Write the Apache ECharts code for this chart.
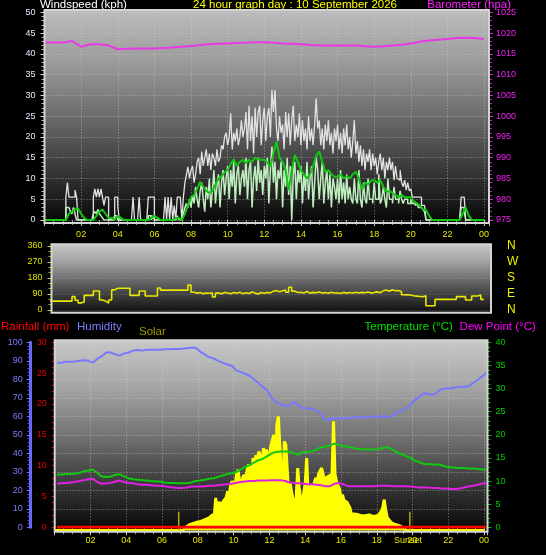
<!DOCTYPE html>
<html><head><meta charset="utf-8">
<script src="https://cdn.jsdelivr.net/npm/echarts@6/dist/echarts.min.js"></script>
<style>html,body{margin:0;padding:0;background:#000}#c{width:546px;height:555px}</style>
</head><body><div id="c"></div>
<script>
// ---- DATA ----
// wind gust (kph), 5-minute samples from 00:00
const gust5 = [
 0,0,0,0,0,0,0,0,0,0,0,0,
 0,0,0,5.5,9,5.5,5.5,5.5,5.5,7.2,5.5,0,
 0,0,0,0,0,0,0,0,0,5.5,7.5,5.5,
 7.5,5.5,7.5,5.5,3.5,5.5,5.5,0,0,0,0,5.5,
 5.5,3.5,0,0,0,0,0,0,0,0,0,5.5,
 0,0,0,5.5,0,0,0,0,0,5.5,5.5,5.5,
 5.5,0,0,0,0,0,0,0,5.5,0,5.5,0,
 5.5,0,3.5,0,5.5,5.5,5.5,0,5.5,9,11,12.8,
 10,12,13,9,11,14,15,11,16.5,13,15,17,
 13,16,12,16,15,13,17,14,15,18,17,20,
 21,18,20,25.7,17,21,19,22,18,20,24,20,
 22,26,17,27.5,19,25,16,27,20,26,27.5,18,
 24,27,19,25,27,20,31.3,26,31.3,22,19,25,
 21,23,17,26,20,25.7,18,24,27.5,19,23,20,
 25.7,18,24,19,22,17,25,19,22,18,23,29.3,
 22,24,18,22,17,23,19,24,18,21,16,22,
 19,23,17,21,16,22,18,23,17,20,15,19,
 24,16,19,14,18,13,17,12,16,14,17,12,
 16,13,15,11,14,16,12,15,10,14,12,15,
 12,14,9.6,13,10,9.6,12,9,8,9.6,7.2,9,
 7,7.5,5.5,5.5,5.5,5.5,5.5,5.5,3.5,3.5,3.5,0,
 0,0,0,0,0,0,0,0,0,0,0,0,
 0,0,0,0,0,0,0,0,0,0,5.5,5.5,
 5.5,0,0,0,0,0,0,0,0,0,0,0,
 0];
// wind speed (kph), 5-minute samples
const speed5 = [
 0,0,0,0,0,0,0,0,0,0,0,0,
 0,0,0,3,3,3,2,1.5,3,1.5,0,0,
 0,0,0,0,0,0,0,0,0,1.5,2,1.5,
 2.5,1.5,1,0.5,0,0,0,0,0,0,0,1,
 1,0,0,0,0,0,0,0,0,0,0,0,
 0,0,0,0,0,0,0,0,0,1,1,0,
 1,0,0,0,0,0,0,0,0,0,0,0,
 0,0,0,0,1,0,0,0,1.5,3,4,3,
 5,3,6,4,8,5,3,7,9,5,2,8,
 5,10,3,7,12,4,8,11,3,9,12,6,
 10,13,5,12,8,14,4,11,13,6,10,12,
 8,15,5,12,14,3,10,13,7,15,9,12,
 6,13,10,15,4,12,17.7,9,14,5,12,10,
 14,3,12,8,15,6,13,0,11,14,5,12,
 9,13,4,11,7,14,5,10,13,3,9,15,
 12,5,10,14,4,9,12,5,11,3,10,8,
 5,10,4,12,5,9,4,11,5,8,5,4,
 10,5,4,12,5,3,9,5,4,10,5,5,
 4,9,5,5,11,4,5,8,5,3,10,5,
 5,4,8,5,5,4,7,5,4,5,5,4,
 4,5,4,4,3.5,4,3,3,3,2.5,2,0,
 0,0,0,0,0,0,0,0,0,0,0,0,
 0,0,0,0,0,0,0,0,0,0,3,3,
 2,0,0,0,0,0,0,0,0,0,0,0,
 0];
// average wind (kph), 10-minute samples
const avg10 = [
 0,0,0,0,0,0,
 0,0,1.5,2,2.5,2.8,
 1.5,0.5,0,0,0,1,
 2,2.5,1.5,0.5,0.5,0,
 1,0.5,0,0,0,0,
 0,0,0,0,0,0.5,
 1,0.5,0,0,0,0,
 0,0.5,0.5,0,1.5,3.5,
 5.5,6,7.5,9.2,8,7,
 6.5,7,8.5,10,10.5,11.5,
 12,13.5,14.6,13,14,14.5,
 13.7,14.5,14,15,14.6,14.5,
 14.5,13.8,12.8,16,18.9,15,
 14,12,7.2,12,15.7,14,
 12,11,10,11,13,15.5,
 16.5,14,11.6,12,11,10.4,
 10.4,11,10,10.5,10,11,
 11.6,10,7.2,9,8.5,9.5,
 9.6,9,9.6,8,6.8,7,
 6.5,6,5.5,6,5.5,5.5,
 5.5,4.5,4,3.5,2.5,2.4,
 1,0,0,0,0,0,
 0,0,0,0,0,1.5,
 3,1,0,0,0,0,
 0];
// barometer (hPa), 30-minute samples
const baro30 = [
 1017.7,1017.7,1017.7,1018.1,1016.7,1017.3,1017.3,1017.0,1016.1,1016.2,
 1016.3,1016.3,1016.3,1016.4,1016.5,1016.7,1016.9,1017.1,1017.3,1017.4,
 1017.5,1017.6,1017.7,1017.8,1017.8,1017.7,1017.5,1017.4,1017.3,1017.1,
 1017.0,1017.0,1017.0,1017.0,1017.0,1016.8,1016.7,1016.8,1017.0,1017.2,
 1017.5,1017.9,1018.2,1018.4,1018.6,1018.8,1018.9,1018.8,1018.6];
// wind direction (degrees), 10-minute samples
const dir10 = [
 50,50,50,50,50,50,
 50,50,50,50,75,55,
 40,45,82,82,82,107,
 107,56,50,39,56,113,
 122,122,122,122,122,82,
 82,82,107,107,79,79,
 79,79,124,112,112,112,
 112,112,112,112,112,112,
 140,100,95,98,92,96,
 94,97,73,95,92,99,
 96,91,99,94,100,92,
 97,93,101,95,90,98,
 94,99,96,106,110,102,
 108,112,100,128,106,98,
 100,96,104,95,99,97,
 101,95,98,94,100,96,
 97,93,99,95,98,96,
 100,96,99,97,101,95,
 98,102,97,108,112,106,
 114,108,110,104,86,85,
 84,80,78,76,75,80,
 24,24,24,60,60,60,
 60,60,60,60,75,75,
 75,56,56,79,79,84,
 60];
// humidity (%), 15-minute samples
const hum15 = [
 89,89,89.5,89.5, 89.6,90,90.3,90, 89,91,92.5,94.5, 94.5,93.5,92.8,94,
 94.5,95.5,95.8,95.5, 96,96,96,96, 96.2,96.2,96.4,96.4, 96.5,96.8,97,97.1,
 95,93.5,92,91.3, 90,89,88,87.5, 85,84,83,82, 80,78,76,74,
 70,67.5,66.5,65.5, 66,67.9,66,64.3, 64.3,64,63,61.6, 58,58.5,59,59,
 59,59,59.3,59.5, 59.5,59.5,59.8,59.8, 59.8,60,59.8,60, 62.5,63,64.3,66,
 68.8,70.5,72.4,72, 71.5,73,74.8,75, 75.2,75.6,75.8,76, 76.2,78,79.6,81.5,
 83.6];
// temperature (°C), 15-minute samples
const temp15 = [
 11.4,11.4,11.5,11.5, 11.6,11.8,12.1,12.3, 12.5,11.8,11.0,10.9, 11.0,11.3,11.5,11.0,
 10.6,10.4,10.3,10.2, 10.1,10.0,9.9,9.9, 9.7,9.6,9.6,9.5, 9.5,9.5,9.7,10.0,
 10.1,10.3,10.5,10.6, 10.9,11.2,11.5,11.7, 11.9,12.4,13.0,13.4, 14.0,14.5,14.8,15.4,
 16.0,16.3,16.4,16.4, 16.4,16.0,15.7,16.3, 16.3,16.4,16.8,17.3, 17.4,17.7,18.1,17.8,
 17.5,17.4,17.2,17.0, 16.9,16.8,16.8,16.8, 16.9,17.2,17.3,16.8, 16.2,15.8,15.4,15.0,
 14.4,14.1,13.7,13.7, 13.6,13.6,13.4,13.1, 13.0,12.9,12.8,12.8, 12.7,12.7,12.6,12.5,
 12.5];
// dew point (°C), 15-minute samples
const dew15 = [
 9.4,9.5,9.6,9.7, 9.8,10.0,10.2,10.4, 10.5,9.8,9.4,9.5, 9.6,9.9,10.1,9.8,
 9.6,9.5,9.3,9.2, 9.2,9.1,9.0,9.0, 8.9,8.7,8.6,8.5, 8.5,8.6,8.8,8.8,
 8.8,8.9,9.0,9.0, 9.1,9.2,9.3,9.4, 9.6,9.8,9.9,10.0, 10.0,10.1,10.1,10.1,
 10.2,10.2,10.2,10.0, 9.7,9.6,9.5,9.4, 9.3,9.3,9.2,9.1, 8.9,8.9,9.4,9.6,
 9.3,8.9,8.9,8.9, 8.9,8.9,8.9,8.9, 9.0,9.0,9.0,8.9, 8.9,8.9,8.9,8.8,
 8.7,8.6,8.6,8.6, 8.5,8.5,8.4,8.4, 8.3,8.3,8.4,8.6, 8.8,9.0,9.2,9.4,
 9.6];
// solar (relative units): hourly night values, 5-minute daytime values 06:00-20:00
const solarAm = [0,0,0,0,0,0];          // 00..05
const solar5 = [
 0,0,0,0,0,0,0,0,0,0,0,0,
 0,0,0,5,18,25,30,32,35,38,40,42,
 45,46,48,52,55,60,62,65,70,67,85,72,
 173,110,150,160,140,155,150,175,208,190,240,261,
 261,240,300,323,260,235,280,296,270,320,350,330,
 251,385,360,400,380,420,390,332,438,410,430,350,
 400,450,480,509,208,562,606,597,300,190,473,456,
 320,190,250,200,160,128,180,332,226,170,128,200,
 250,385,190,210,240,226,250,279,260,300,290,332,
 300,252,280,270,290,296,300,580,300,261,240,220,
 173,190,160,170,150,155,120,85,95,88,92,85,
 85,80,84,78,81,80,78,83,77,76,80,76,
 78,80,90,102,120,164,110,70,58,50,40,35,
 33,30,28,26,23,18,12,5,0,0,0,0,
 0];
const solarPm = [0,0,0,0];               // 21..24
const rainHourly = [0,0,0,0,0,0,0,0,0,0,0,0,0,0,0,0,0,0,0,0,0,0,0,0,0];
const sunTimes = [6.93, 19.85];           // sunrise, sunset (h)
const sunMarkHeight = 100;
const dirNames = {0:'N',90:'E',180:'S',270:'W',360:'N'};

// ---- helpers ----
const F = "'Liberation Sans',Arial,sans-serif";
const ts = (arr, start, step) => arr.map((v, i) => [start + i * step, v]);
const hourFmt = v => (Math.abs(v - Math.round(v)) < 1e-6 && Math.round(v) % 2 === 0 && v > 0)
  ? String(Math.round(v) % 24).padStart(2, '0') : '';
const solarData = ts(solarAm, 0, 1).concat(ts(solar5, 6, 1/12)).concat(ts(solarPm, 21, 1));
const sunData = [];
sunTimes.forEach(t => { sunData.push([t, 0], [t, sunMarkHeight], [t, null]); });

const chart = echarts.init(document.getElementById('c'), null, {renderer: 'canvas', width: 546, height: 555});

const grad = (a, b, c, d, e) => new echarts.graphic.LinearGradient(0, 0, 0, 1, [
  {offset: 0, color: a}, {offset: 0.25, color: b}, {offset: 0.5, color: c}, {offset: 0.75, color: d}, {offset: 1, color: e}]);
const dot = {type: [1, 2], color: 'rgba(215,215,215,0.55)', width: 1};
const txt = (x, y, t, c, size, align) => ({type: 'text', x, y, silent: true,
  style: {text: t, fill: c, font: (size || 11.5) + 'px ' + F, align: align || 'left', verticalAlign: 'middle'}});
const bg = (x, y, w, h, g) => ({type: 'rect', silent: true, z: -10, shape: {x, y, width: w, height: h}, style: {fill: g}});
const frame = (x, y, w, h) => ({type: 'rect', silent: true, z: 10, shape: {x, y, width: w, height: h}, style: {fill: null, stroke: '#d4d4d4', lineWidth: 2}});

const tickLbl = (color, margin) => ({color, fontSize: 9, fontFamily: F, margin, formatter: v => String(v)});

chart.setOption({
  animation: false,
  backgroundColor: '#000',
  graphic: [
    bg(44.5, 10, 444.5, 213, grad('#bcbcbc', '#9a9a9a', '#6c6c6c', '#383838', '#060606')),
    bg(51.5, 244.3, 439.5, 68.4, grad('#c6c6c6', '#a2a2a2', '#707070', '#3c3c3c', '#0e0e0e')),
    bg(54.7, 340.3, 432.8, 191.4, grad('#c8c8c8', '#a4a4a4', '#727272', '#3a3a3a', '#050505')),
    frame(44.5, 10, 444.5, 213),
    frame(51.5, 244.3, 439.5, 68.4),
    frame(54.7, 340.3, 432.8, 191.4),
    txt(40, 5, 'Windspeed (kph)', '#ffffff'),
    txt(295, 5, '24 hour graph day : 10 September 2026', '#ffff00', 11.5, 'center'),
    txt(511, 5, 'Barometer (hpa)', '#ff20ff', 11.5, 'right'),
    txt(1, 327, 'Rainfall (mm)', '#ff0000'),
    txt(77, 327, 'Humidity', '#7b7bff'),
    txt(139, 332, 'Solar', '#9c9c00'),
    txt(364.5, 327, 'Temperature (°C)', '#00e000'),
    txt(459.6, 327, 'Dew Point (°C)', '#ff00ff'),
    txt(408, 541, 'Sunset', '#e6e600', 9, 'center')
  ],
  grid: [
    {left: 44.5, width: 444.5, top: 12.3, height: 207.7},
    {left: 51.5, width: 439.5, top: 246, height: 64},
    {left: 54.7, width: 432.8, top: 342.3, height: 185},
    {left: 54.7, width: 432.8, top: 342.3, height: 188.2}
  ],
  xAxis: [
    {gridIndex: 0, type: 'value', min: 0, max: 24.27, interval: 2,
     axisLine: {show: false},
     axisTick: {show: true, length: 6, lineStyle: {color: '#c8c8c8'}},
     minorTick: {show: true, splitNumber: 4, length: 5, lineStyle: {color: '#9a9a9a'}},
     axisLabel: Object.assign(tickLbl('#e6e600', 10), {formatter: hourFmt}),
     splitLine: {show: true, lineStyle: dot}},
    {gridIndex: 1, type: 'value', min: 0.38, max: 24.39,
     axisLine: {show: false}, axisTick: {show: false}, axisLabel: {show: false}, splitLine: {show: false}},
    {gridIndex: 2, type: 'value', min: 0, max: 24.19, interval: 2,
     axisLine: {show: false},
     axisTick: {show: true, length: 8, lineStyle: {color: '#c8c8c8'}},
     minorTick: {show: true, splitNumber: 4, length: 7, lineStyle: {color: '#9a9a9a'}},
     axisLabel: Object.assign(tickLbl('#e6e600', 9), {formatter: hourFmt}),
     splitLine: {show: true, lineStyle: dot}},
    {gridIndex: 3, type: 'value', min: 0, max: 24.19, show: false}
  ],
  yAxis: [
    {gridIndex: 0, type: 'value', min: 0, max: 50, interval: 5, position: 'left',
     axisLine: {show: false},
     axisTick: {show: true, length: 4, lineStyle: {color: '#d8d8d8'}},
     minorTick: {show: true, splitNumber: 5, length: 3, lineStyle: {color: '#b8b8b8'}},
     axisLabel: tickLbl('#e4ecff', 9),
     splitLine: {show: true, lineStyle: dot}},
    {gridIndex: 0, type: 'value', min: 975, max: 1025, interval: 5, position: 'right',
     axisLine: {show: false},
     axisTick: {show: true, length: 4, lineStyle: {color: '#e020e0'}},
     minorTick: {show: true, splitNumber: 5, length: 3, lineStyle: {color: '#c020c0'}},
     axisLabel: tickLbl('#ee22ee', 7),
     splitLine: {show: false}},
    {gridIndex: 1, type: 'value', min: 0, max: 360, interval: 90, position: 'left',
     axisLine: {show: false},
     axisTick: {show: true, length: 4, lineStyle: {color: '#d8d800'}},
     minorTick: {show: true, splitNumber: 3, length: 3, lineStyle: {color: '#b0b000'}},
     axisLabel: tickLbl('#e0e000', 9),
     splitLine: {show: true, lineStyle: {type: [1, 2], color: 'rgba(215,215,215,0.3)'}}},
    {gridIndex: 1, type: 'value', min: 0, max: 360, interval: 90, position: 'right',
     axisLine: {show: false}, axisTick: {show: false}, splitLine: {show: false},
     axisLabel: {color: '#f0f000', fontSize: 12, fontFamily: F, margin: 16, formatter: v => dirNames[v] || ''}},
    {gridIndex: 2, type: 'value', min: 0, max: 100, interval: 10, position: 'left', offset: 24,
     axisLine: {show: true, onZero: false, lineStyle: {color: '#6a6aff', width: 3}},
     axisTick: {show: true, length: 4, lineStyle: {color: '#7070ff'}},
     minorTick: {show: true, splitNumber: 5, length: 3, lineStyle: {color: '#6060e0'}},
     axisLabel: tickLbl('#7b7bff', 8),
     splitLine: {show: true, lineStyle: dot}},
    {gridIndex: 2, type: 'value', min: 0, max: 30, interval: 5, position: 'left', offset: 0,
     axisLine: {show: false, onZero: false},
     axisTick: {show: true, length: 3, lineStyle: {color: '#e00000'}},
     minorTick: {show: true, splitNumber: 5, length: 3, lineStyle: {color: '#c00000'}},
     axisLabel: tickLbl('#e80000', 8),
     splitLine: {show: false}},
    {gridIndex: 2, type: 'value', min: 0, max: 40, interval: 5, position: 'right',
     axisLine: {show: false, onZero: false},
     axisTick: {show: true, length: 4, lineStyle: {color: '#00c000'}},
     minorTick: {show: true, splitNumber: 5, length: 3, lineStyle: {color: '#00a000'}},
     axisLabel: tickLbl('#00d000', 8),
     splitLine: {show: false}},
    {gridIndex: 3, type: 'value', min: 0, max: 1000, show: false, splitLine: {show: false}}
  ],
  series: [
    // wind panel
    {type: 'line', xAxisIndex: 0, yAxisIndex: 0, data: ts(gust5, 0, 1/12), step: 'start', symbol: 'none', silent: true,
     lineStyle: {color: '#e2e2e2', width: 1.3}},
    {type: 'line', xAxisIndex: 0, yAxisIndex: 0, data: ts(speed5, 0, 1/12), step: 'start', symbol: 'none', silent: true,
     lineStyle: {color: '#bfeebf', width: 1.5}},
    {type: 'line', xAxisIndex: 0, yAxisIndex: 0, data: ts(avg10, 0, 1/6), symbol: 'none', silent: true,
     lineStyle: {color: '#10c810', width: 2}},
    {type: 'line', xAxisIndex: 0, yAxisIndex: 1, data: ts(baro30, 0, 0.5), symbol: 'none', silent: true,
     lineStyle: {color: '#e838e8', width: 2}},
    // direction panel
    {type: 'line', xAxisIndex: 1, yAxisIndex: 2, data: ts(dir10, 0, 1/6), step: 'start', symbol: 'none', silent: true,
     lineStyle: {color: '#e8e800', width: 1.6}},
    // bottom panel
    {type: 'line', xAxisIndex: 3, yAxisIndex: 7, data: solarData, symbol: 'none', silent: true, z: 1,
     lineStyle: {color: '#ffff00', width: 3}, areaStyle: {color: '#ffff00', opacity: 1}},
    {type: 'line', xAxisIndex: 3, yAxisIndex: 7, data: sunData, symbol: 'none', silent: true, connectNulls: false,
     lineStyle: {color: '#b0b000', width: 1.5}},
    {type: 'line', xAxisIndex: 2, yAxisIndex: 5, data: ts(rainHourly, 0.13, (24.1 - 0.13) / 24), symbol: 'none', silent: true,
     lineStyle: {color: '#ff0000', width: 3}},
    {type: 'line', xAxisIndex: 2, yAxisIndex: 4, data: ts(hum15, 0.13, 0.25), symbol: 'none', silent: true,
     lineStyle: {color: '#7878ff', width: 2}},
    {type: 'line', xAxisIndex: 2, yAxisIndex: 6, data: ts(temp15, 0.13, 0.25), symbol: 'none', silent: true,
     lineStyle: {color: '#10c810', width: 2}},
    {type: 'line', xAxisIndex: 2, yAxisIndex: 6, data: ts(dew15, 0.13, 0.25), symbol: 'none', silent: true,
     lineStyle: {color: '#e020e0', width: 2}}
  ]
});
</script>
</body></html>
